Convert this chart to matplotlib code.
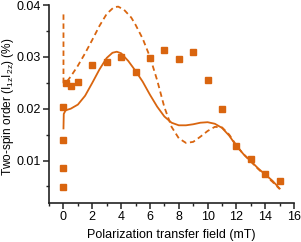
import matplotlib
matplotlib.use("Agg")
import matplotlib.pyplot as plt
from matplotlib.ticker import MultipleLocator

plt.rcParams['font.family'] = ['Liberation Sans', 'DejaVu Sans']
plt.rcParams['mathtext.fontset'] = 'custom'
plt.rcParams['mathtext.rm'] = 'Liberation Sans'
plt.rcParams['mathtext.it'] = 'Liberation Sans'

# measured data points
field_pts = [0, 0, 0, 0, 0.2, 0.5, 1.0, 2.0, 3.0, 4.0, 5.0, 6.0, 7.0, 8.0, 9.0, 10.0, 11.0, 12.0, 13.0, 14.0, 15.0]
order_pts = [0.0203, 0.0139, 0.0085, 0.0049, 0.0250, 0.0244, 0.0252, 0.02845, 0.0290, 0.0300, 0.0271, 0.0297,
             0.0313, 0.0296, 0.0310, 0.0255, 0.0200, 0.0128, 0.0103, 0.0074, 0.0061]

# simulated curve (solid)
sim_x = [0.0, 0.02, 0.15, 0.5, 1.0, 1.5, 2.0, 2.5, 3.0, 3.4, 3.7, 4.0, 4.5, 5.0, 5.5, 6.0, 6.5, 7.0, 7.5,
         8.0, 8.5, 9.0, 9.5, 10.0, 10.5, 11.0, 11.5, 12.0, 12.5, 13.0, 13.5, 14.0, 14.5, 15.0]
sim_y = [0.0162, 0.0190, 0.0197, 0.0200, 0.0208, 0.0225, 0.0250, 0.0276, 0.0298, 0.0308, 0.0310, 0.0307,
         0.0292, 0.0273, 0.0252, 0.0227, 0.0204, 0.0185, 0.0173, 0.0168, 0.0168, 0.0170, 0.0173, 0.0174,
         0.0171, 0.0163, 0.0148, 0.0128, 0.0112, 0.0099, 0.0085, 0.0073, 0.0061, 0.0046]

# simulated curve (dashed)
sim2_x = [0.0, 0.0, 0.25, 0.5, 1.0, 1.5, 2.0, 2.5, 3.0, 3.5, 3.8, 4.2, 4.7, 5.0, 5.5, 6.0, 6.5, 7.0, 7.5,
          8.0, 8.5, 9.0, 9.5, 10.0, 10.5, 11.0, 11.5, 12.0, 12.5, 13.0, 13.5, 14.0, 14.5, 15.0]
sim2_y = [0.0382, 0.0250, 0.0253, 0.0262, 0.0283, 0.0307, 0.0333, 0.0360, 0.0383, 0.0396, 0.0397, 0.0391,
          0.0376, 0.0362, 0.0335, 0.0300, 0.0255, 0.0203, 0.0165, 0.0143, 0.0134, 0.0136, 0.0146, 0.0157,
          0.0165, 0.0164, 0.0150, 0.0129, 0.0112, 0.0098, 0.0084, 0.0071, 0.0059, 0.0045]

color = '#d9650f'

fig = plt.figure(figsize=(3.01, 2.42), dpi=100)
ax = fig.add_axes([0.163, 0.161, 0.814, 0.818])

ax.plot(sim2_x, sim2_y, color=color, lw=1.3, ls=(0, (3, 2)))
ax.plot(sim_x, sim_y, color=color, lw=1.3)
ax.plot(field_pts, order_pts, ls='none', marker='s', ms=4.8, color=color, mec=color)

ax.set_xlim(-1, 16)
ax.set_ylim(0.0018, 0.04)
ax.xaxis.set_minor_locator(MultipleLocator(1))
ax.yaxis.set_minor_locator(MultipleLocator(0.005))
ax.set_xticks([0, 2, 4, 6, 8, 10, 12, 14, 16])
ax.set_xticklabels(['0', '2', '4', '6', '8', '10', '12', '14', '16'])
ax.set_yticks([0.01, 0.02, 0.03, 0.04])
ax.set_yticklabels(['0.01', '0.02', '0.03', '0.04'])

for s in ['top', 'right']:
    ax.spines[s].set_visible(False)
for s in ['left', 'bottom']:
    ax.spines[s].set_linewidth(1.2)
    ax.spines[s].set_color('#222222')
ax.tick_params(which='major', direction='out', length=4, width=1.1, labelsize=9, colors='#222222', pad=2)
ax.tick_params(which='minor', direction='out', length=2.5, width=1.0, colors='#222222')
ax.tick_params(labelcolor='black')

ax.set_xlabel('Polarization transfer field (mT)', fontsize=9, labelpad=4)
fig.text(8.5 / 301, 1 - 107 / 242, r'Two-spin order (I$_{1z}$I$_{2z}$) (%)', fontsize=8.6,
         rotation=90, ha='center', va='center')

fig.savefig('out.png', dpi=100)
